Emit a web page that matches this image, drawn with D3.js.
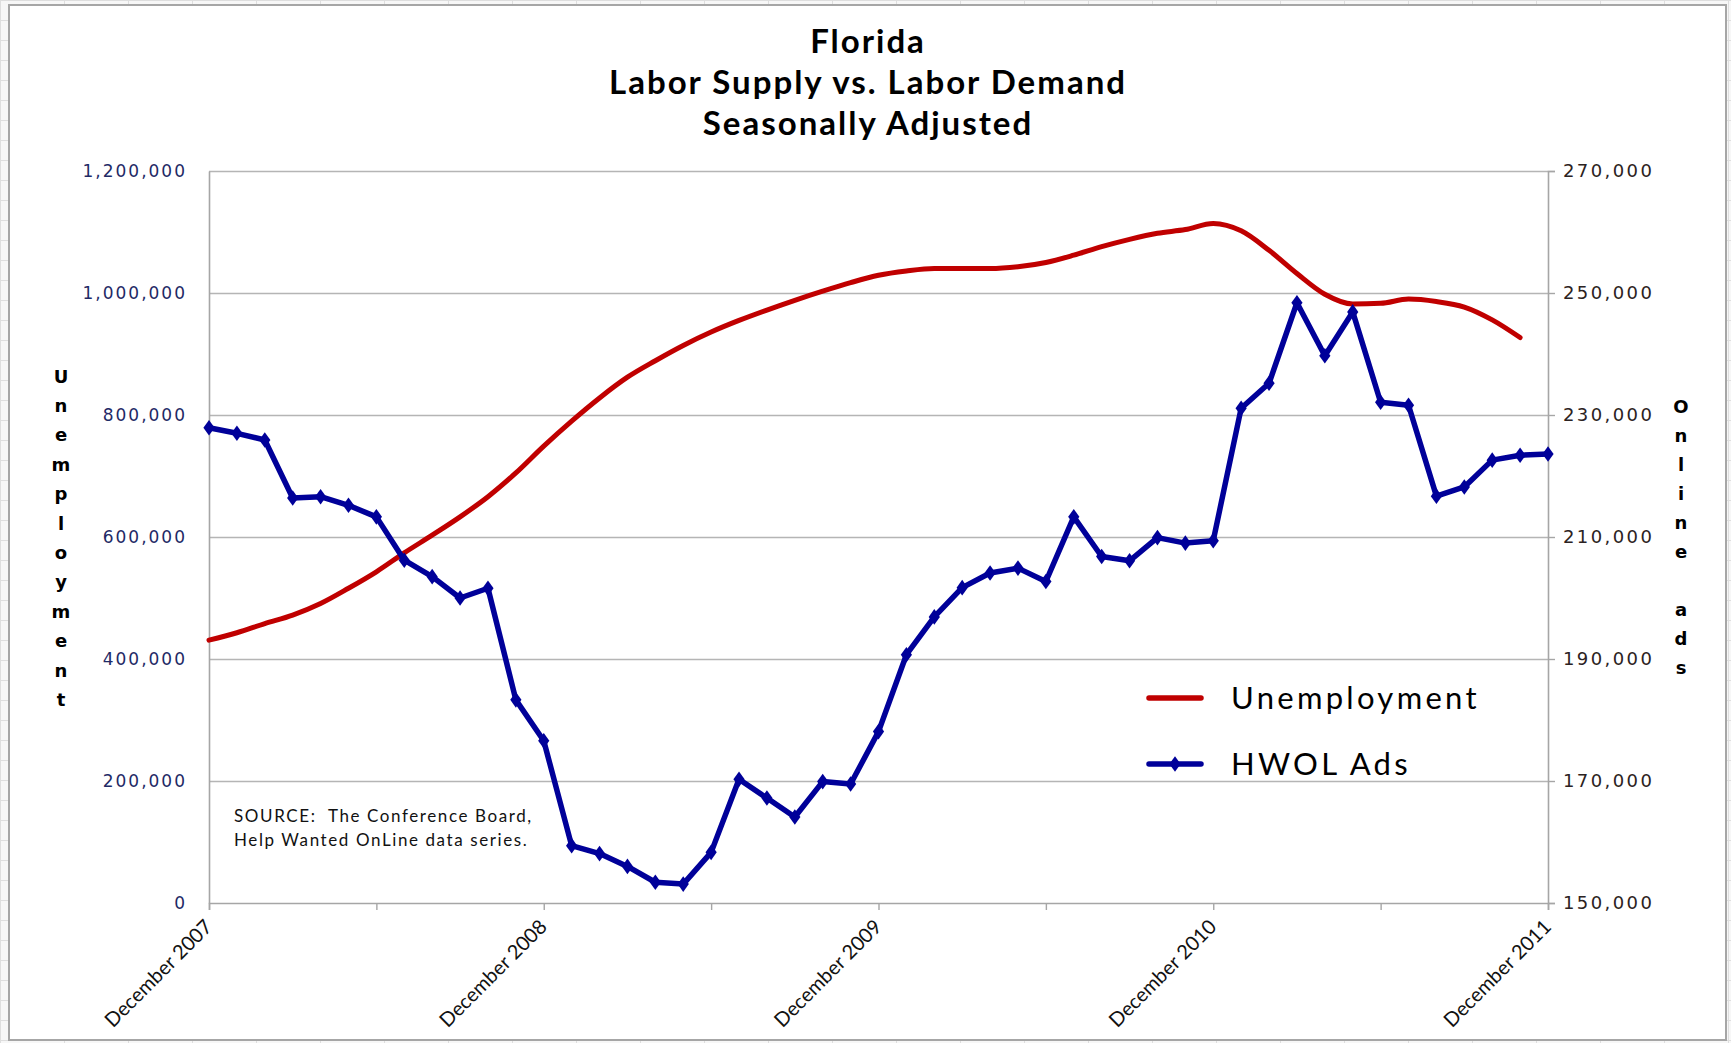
<!DOCTYPE html>
<html>
<head>
<meta charset="utf-8">
<script src="https://cdn.jsdelivr.net/npm/d3@7"></script>
<style>
  body { margin: 0; background: #ffffff; }
  svg { display: block; }
  text { white-space: pre; }
</style>
</head>
<body>
<svg id="chart" width="1731" height="1043"></svg>
<script>
// categories: monthly, December 2007 .. December 2011
var months = d3.timeMonth.range(new Date(2007, 11, 1), new Date(2012, 0, 1));
var xTickLabels = ["December 2007", "December 2008", "December 2009", "December 2010", "December 2011"];

// unemployment (left axis), Dec 2007 .. Nov 2011
var unemployment = [431000, 443000, 458000, 472000, 491000, 516000, 543000, 574000, 603000, 633000,
  666000, 705000, 749000, 790000, 828000, 862000, 889000, 914000, 936000, 955000,
  972000, 988000, 1003000, 1017000, 1029000, 1036000, 1040000, 1040000, 1040000, 1043000,
  1050000, 1062000, 1076000, 1088000, 1098000, 1104000, 1114000, 1102000, 1070000, 1032000,
  998000, 982000, 983000, 990000, 986000, 977000, 956000, 927000];

// HWOL online ads (right axis), Dec 2007 .. Dec 2011
var hwolAds = [227900, 227000, 225900, 216400, 216600, 215200, 213300, 206200, 203500, 200000,
  201600, 183300, 176600, 159400, 158100, 156000, 153400, 153100, 158300, 170300,
  167200, 164100, 169900, 169500, 178100, 190700, 196900, 201700, 204100, 204900,
  202700, 213300, 206800, 206100, 209900, 209000, 209400, 231100, 235200, 248400,
  239700, 246900, 232100, 231600, 216700, 218200, 222600, 223400, 223600];

var leftTicks = [0, 200000, 400000, 600000, 800000, 1000000, 1200000];
var rightTicks = [150000, 170000, 190000, 210000, 230000, 250000, 270000];

var titleLines = ["Florida", "Labor Supply vs. Labor Demand", "Seasonally Adjusted"];
var seriesNames = ["Unemployment", "HWOL Ads"];
var sourceLines = ["SOURCE:  The Conference Board,", "Help Wanted OnLine data series."];

var W = 1731, H = 1043;
var plot = {left: 209, right: 1548, top: 171, bottom: 903};
var red = "#c00000", blue = "#000099";

var svg = d3.select("#chart");

// spreadsheet background around the chart object
var bg = svg.append("g");
bg.append("rect").attr("width", W).attr("height", H).attr("fill", "#f7f7f7");
d3.range(0, H, 20).forEach(function (y) {
  bg.append("line").attr("x1", 0).attr("x2", W).attr("y1", y + 0.5).attr("y2", y + 0.5)
    .attr("stroke", "#dedede");
});
d3.range(0, W, 64).forEach(function (x) {
  bg.append("line").attr("x1", x + 0.5).attr("x2", x + 0.5).attr("y1", 0).attr("y2", H)
    .attr("stroke", "#dedede");
});
svg.append("rect")
  .attr("x", 9).attr("y", 5).attr("width", 1717).attr("height", 1035)
  .attr("fill", "#ffffff").attr("stroke", "#a6a6a6").attr("stroke-width", 2);

var x = d3.scalePoint().domain(d3.range(months.length)).range([plot.left, plot.right]);
var yL = d3.scaleLinear().domain([0, 1200000]).range([plot.bottom, plot.top]);
var yR = d3.scaleLinear().domain([150000, 270000]).range([plot.bottom, plot.top]);
var fmt = d3.format(",");

// gridlines
svg.append("g")
  .selectAll("line").data(leftTicks.slice(1)).enter().append("line")
  .attr("x1", plot.left).attr("x2", plot.right)
  .attr("y1", function (d) { return Math.round(yL(d)) + 0.5; })
  .attr("y2", function (d) { return Math.round(yL(d)) + 0.5; })
  .attr("stroke", "#b5b5b5").attr("stroke-width", 1.6);

// left axis
var gL = svg.append("g").attr("transform", "translate(" + plot.left + ",0)")
  .call(d3.axisLeft(yL).tickValues(leftTicks).tickSize(0).tickPadding(22).tickFormat(fmt));
gL.select(".domain").attr("stroke", "#a6a6a6").attr("stroke-width", 1.6);
gL.selectAll("text").attr("font-family", "DejaVu Sans").attr("font-size", 17)
  .attr("letter-spacing", 2).attr("fill", "#1f2a66");

// right axis
var gR = svg.append("g").attr("transform", "translate(" + plot.right + ",0)")
  .call(d3.axisRight(yR).tickValues(rightTicks).tickSize(7).tickPadding(8).tickFormat(fmt));
gR.select(".domain").attr("stroke", "#a6a6a6").attr("stroke-width", 1.6);
gR.selectAll(".tick line").attr("stroke", "#a6a6a6").attr("stroke-width", 1.4);
gR.selectAll("text").attr("font-family", "DejaVu Sans").attr("font-size", 18)
  .attr("letter-spacing", 2.4).attr("fill", "#2b2222");

// bottom axis
var gB = svg.append("g").attr("transform", "translate(0," + plot.bottom + ")")
  .call(d3.axisBottom(x)
    .tickValues(d3.range(0, months.length, 6))
    .tickSize(7)
    .tickFormat(function (i) { return i % 12 === 0 ? xTickLabels[i / 12] : ""; }));
gB.select(".domain").attr("stroke", "#a6a6a6").attr("stroke-width", 1.6);
gB.selectAll(".tick line").attr("stroke", "#a6a6a6").attr("stroke-width", 1.4);
gB.selectAll("text")
  .attr("font-family", "Lato").attr("font-size", 20).attr("fill", "#111")
  .attr("text-anchor", "end").attr("dy", null).attr("y", 0)
  .attr("transform", "translate(4,25) rotate(-45)");

// unemployment line
svg.append("path").datum(unemployment)
  .attr("fill", "none").attr("stroke", red).attr("stroke-width", 5)
  .attr("stroke-linejoin", "round").attr("stroke-linecap", "round")
  .attr("d", d3.line().curve(d3.curveMonotoneX)
    .x(function (d, i) { return x(i); }).y(function (d) { return yL(d); }));

// HWOL line + diamonds
svg.append("path").datum(hwolAds)
  .attr("fill", "none").attr("stroke", blue).attr("stroke-width", 5.5)
  .attr("stroke-linejoin", "round")
  .attr("d", d3.line().x(function (d, i) { return x(i); }).y(function (d) { return yR(d); }));

var diamond = d3.symbol().type(d3.symbolDiamond).size(70);
svg.append("g").selectAll("path").data(hwolAds).enter().append("path")
  .attr("d", diamond)
  .attr("transform", function (d, i) { return "translate(" + x(i) + "," + yR(d) + ") scale(1.25,1)"; })
  .attr("fill", blue);

// title
svg.append("g").selectAll("text").data(titleLines).enter().append("text")
  .attr("x", 868).attr("y", function (d, i) { return 53 + i * 41; })
  .attr("text-anchor", "middle")
  .attr("font-family", "Lato").attr("font-weight", "bold").attr("font-size", 33)
  .attr("letter-spacing", 2).attr("fill", "#000")
  .text(function (d) { return d; });

// vertical stacked axis titles
function stacked(str, cx, y0, step) {
  svg.append("g").selectAll("text").data(str.split("")).enter().append("text")
    .attr("x", cx).attr("y", function (d, i) { return y0 + i * step; })
    .attr("text-anchor", "middle").attr("dominant-baseline", "central")
    .attr("font-family", "DejaVu Sans").attr("font-weight", "bold").attr("font-size", 18)
    .attr("fill", "#000")
    .text(function (d) { return d; });
}
stacked("Unemployment", 61, 376, 29.4);
stacked("Online ads", 1681, 406, 29.1);

// legend
var legend = svg.append("g");
seriesNames.forEach(function (name, i) {
  var ly = 698 + i * 66;
  var c = i === 0 ? red : blue;
  legend.append("line").attr("x1", 1149).attr("x2", 1201).attr("y1", ly).attr("y2", ly)
    .attr("stroke", c).attr("stroke-width", 5.5).attr("stroke-linecap", "round");
  if (i === 1) {
    legend.append("path").attr("d", diamond)
      .attr("transform", "translate(1175," + ly + ") scale(1.25,1)").attr("fill", c);
  }
  legend.append("text").attr("x", 1231).attr("y", ly + 11)
    .attr("font-family", "Lato").attr("font-size", 31).attr("letter-spacing", 3.3)
    .attr("fill", "#000").text(name);
});

// source note
svg.append("g").selectAll("text").data(sourceLines).enter().append("text")
  .attr("x", 234).attr("y", function (d, i) { return 822 + i * 24; })
  .attr("font-family", "Lato").attr("font-size", 17).attr("letter-spacing", 1.6)
  .attr("fill", "#111")
  .text(function (d) { return d; });
</script>
</body>
</html>
